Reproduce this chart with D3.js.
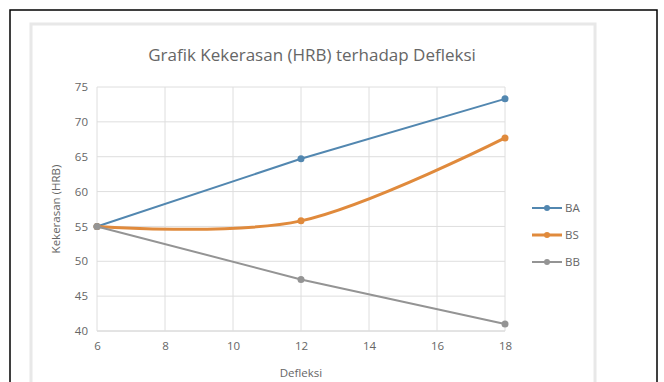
<!DOCTYPE html>
<html lang="id">
<meta charset="utf-8">
<head>
    <script src="https://d3js.org/d3.v7.min.js"></script>
    <style>
        body { margin: 0; background: #fff; }
        text { font-family: "Open Sans", "Noto Sans", sans-serif; fill: #666; }
    </style>
</head>
<body>
<script>

// data
const deflection = [6, 12, 18]
const seriesNames = ["BA", "BS", "BB"]
const valuesBA = [55, 64.7, 73.3]
const valuesBS = [55, 55.8, 67.7]
const valuesBB = [55, 47.4, 41]
const xTicks = [6, 8, 10, 12, 14, 16, 18]
const yTicks = [40, 45, 50, 55, 60, 65, 70, 75]

const series = [
    {name: seriesNames[0], values: valuesBA, color: "#5287b0", width: 2, smooth: false},
    {name: seriesNames[1], values: valuesBS, color: "#e08a3c", width: 3, smooth: true},
    {name: seriesNames[2], values: valuesBB, color: "#949494", width: 2, smooth: false}
]

const width = 664,
    height = 382;

const svg = d3.select("body")
    .append("svg")
    .attr("width", width)
    .attr("height", height);

// outer frame + chart area
svg.append("rect")
    .attr("x", 10).attr("y", 10)
    .attr("width", 647).attr("height", 390)
    .attr("fill", "none")
    .attr("stroke", "#000")
    .attr("stroke-width", 1.5);

svg.append("rect")
    .attr("x", 31).attr("y", 24)
    .attr("width", 564).attr("height", 370)
    .attr("fill", "#fff")
    .attr("stroke", "#e8e8e8")
    .attr("stroke-width", 3);

// scales
const x = d3.scaleLinear().domain([6, 18]).range([97, 505]);
const y = d3.scaleLinear().domain([40, 75]).range([331, 87]);

// gridlines
svg.append("g")
    .selectAll("line")
    .data(yTicks)
    .join("line")
    .attr("x1", x(6)).attr("x2", x(18))
    .attr("y1", d => y(d)).attr("y2", d => y(d))
    .attr("stroke", d => d === 40 ? "#c8c8c8" : "#dedede")
    .attr("stroke-width", 1);

svg.append("g")
    .selectAll("line")
    .data(xTicks)
    .join("line")
    .attr("x1", d => x(d)).attr("x2", d => x(d))
    .attr("y1", y(40)).attr("y2", y(75))
    .attr("stroke", "#dedede")
    .attr("stroke-width", 1);

// axes (labels only)
const xAxis = svg.append("g")
    .attr("transform", `translate(0, ${y(40) + 8})`)
    .call(d3.axisBottom(x).tickValues(xTicks).tickSize(0));
xAxis.select(".domain").remove();
xAxis.selectAll("text").style("font-size", "11.5px").attr("fill", "#666");

const yAxis = svg.append("g")
    .attr("transform", `translate(${x(6) - 6}, 0)`)
    .call(d3.axisLeft(y).tickValues(yTicks).tickSize(0));
yAxis.select(".domain").remove();
yAxis.selectAll("text").style("font-size", "11.5px").attr("fill", "#666");

// titles
svg.append("text")
    .attr("x", 312).attr("y", 61)
    .attr("text-anchor", "middle")
    .style("font-size", "17px")
    .text("Grafik Kekerasan (HRB) terhadap Defleksi");

svg.append("text")
    .attr("x", x(12)).attr("y", 377)
    .attr("text-anchor", "middle")
    .style("font-size", "11.5px")
    .text("Defleksi");

svg.append("text")
    .attr("transform", `translate(60, ${y(57.5)}) rotate(-90)`)
    .attr("text-anchor", "middle")
    .style("font-size", "11.5px")
    .text("Kekerasan (HRB)");

// lines
series.forEach(s => {
    const line = d3.line()
        .x((d, i) => x(deflection[i]))
        .y(d => y(d))
        .curve(s.smooth ? d3.curveCardinal.tension(0) : d3.curveLinear);

    svg.append("path")
        .datum(s.values)
        .attr("d", line)
        .attr("fill", "none")
        .attr("stroke", s.color)
        .attr("stroke-width", s.width);

    svg.append("g")
        .selectAll("circle")
        .data(s.values)
        .join("circle")
        .attr("cx", (d, i) => x(deflection[i]))
        .attr("cy", d => y(d))
        .attr("r", 3.5)
        .attr("fill", s.color);
});

// legend
const legend = svg.append("g")
    .selectAll("g")
    .data(series)
    .join("g")
    .attr("transform", (d, i) => `translate(532, ${208 + i * 27})`);

legend.append("line")
    .attr("x1", 0).attr("x2", 30)
    .attr("stroke", d => d.color)
    .attr("stroke-width", d => d.width);

legend.append("circle")
    .attr("cx", 15)
    .attr("r", 3)
    .attr("fill", d => d.color);

legend.append("text")
    .attr("x", 33).attr("y", 4)
    .style("font-size", "11.5px")
    .text(d => d.name);

</script>
</body>
</html>
